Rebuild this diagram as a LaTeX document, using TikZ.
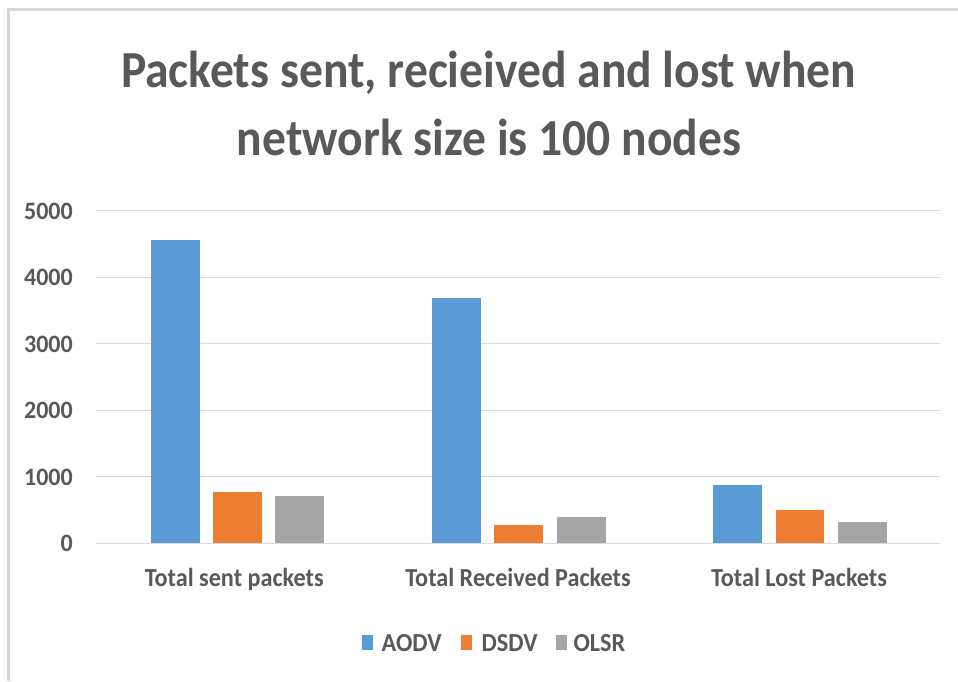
\documentclass[tikz,border=0pt]{standalone}
\usepackage{graphicx}
\usepackage{fontspec}
\setmainfont{Carlito}
\definecolor{aodv}{HTML}{5B9BD5}
\definecolor{dsdv}{HTML}{ED7D31}
\definecolor{olsr}{HTML}{A5A5A5}
\definecolor{txt}{HTML}{595959}
\definecolor{grid}{HTML}{D9D9D9}
\definecolor{frame}{HTML}{D6D6D6}
\newcommand{\narrowtext}[2]{\scalebox{#1}[1]{#2}}
\tikzset{
  gridline/.style={draw=grid, line width=1.3pt},
  ylab/.style={anchor=base east, text=txt, font=\fontsize{25}{25}\selectfont\bfseries, inner sep=0pt},
  catlab/.style={anchor=base, text=txt, font=\fontsize{26}{26}\selectfont\bfseries, inner sep=0pt},
  leglab/.style={anchor=base west, text=txt, font=\fontsize{26}{26}\selectfont\bfseries, inner sep=0pt},
  titlelab/.style={anchor=base, text=txt, font=\fontsize{52}{52}\selectfont\bfseries, inner sep=0pt},
}
\begin{document}
\begin{tikzpicture}[x=1pt,y=-1pt]
\useasboundingbox (0,0) rectangle (958,681);
\fill[white] (0,0) rectangle (958,681);
% frame
\draw[frame, line width=3pt] (8,681) -- (8,9.5) -- (958,9.5);
% title
\node[titlelab] (t1) at (488.7,87) {\narrowtext{0.915}{Packets sent, recieived and lost when}};
\node[titlelab] (t2) at (489,155) {\narrowtext{0.915}{network size is 100 nodes}};
% grid and y labels
\foreach \v in {0,1,2,3,4,5}{
  \draw[gridline] (96,543.3-66.5*\v) -- (940,543.3-66.5*\v);
}
\node[ylab] (y0) at (73,551.8) {\narrowtext{0.96}{0}};
\node[ylab] (y1) at (73,485.3) {\narrowtext{0.96}{1000}};
\node[ylab] (y2) at (73,418.8) {\narrowtext{0.96}{2000}};
\node[ylab] (y3) at (73,352.3) {\narrowtext{0.96}{3000}};
\node[ylab] (y4) at (73,285.8) {\narrowtext{0.96}{4000}};
\node[ylab] (y5) at (73,219.3) {\narrowtext{0.96}{5000}};
% bars
\def\base{543.3}
\fill[aodv] (150.5,\base) rectangle (199.5,240);
\fill[dsdv] (212.5,\base) rectangle (262,491.5);
\fill[olsr] (275,\base) rectangle (324,496);
\fill[aodv] (431.5,\base) rectangle (480.5,298.3);
\fill[dsdv] (494,\base) rectangle (543,524.5);
\fill[olsr] (556.5,\base) rectangle (605.5,517);
\fill[aodv] (712.5,\base) rectangle (761.5,485);
\fill[dsdv] (775.5,\base) rectangle (824,509.5);
\fill[olsr] (837.5,\base) rectangle (886.5,521.5);
% category labels
\node[catlab] (c1) at (234.2,586.7) {\narrowtext{0.93}{Total sent packets}};
\node[catlab] (c2) at (518,586.7) {\narrowtext{0.93}{Total Received Packets}};
\node[catlab] (c3) at (799,586.7) {\narrowtext{0.93}{Total Lost Packets}};
% legend
\fill[aodv] (362.3,635) rectangle (373.3,650);
\node[leglab] (l1) at (381.5,651) {\narrowtext{0.93}{AODV}};
\fill[dsdv] (461,635) rectangle (472,650);
\node[leglab] (l2) at (481.5,651) {\narrowtext{0.93}{DSDV}};
\fill[olsr] (556,635) rectangle (566.7,650);
\node[leglab] (l3) at (573.3,651) {\narrowtext{0.93}{OLSR}};
\end{tikzpicture}
\end{document}
